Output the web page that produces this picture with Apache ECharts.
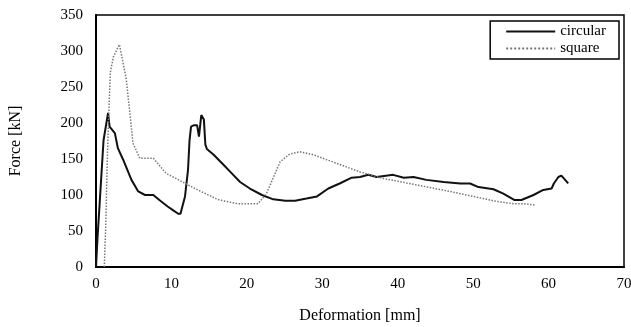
<!DOCTYPE html>
<html>
<head>
<meta charset="utf-8">
<script src="https://cdn.jsdelivr.net/npm/echarts@6/dist/echarts.min.js"></script>
<style>
  html, body { margin: 0; padding: 0; background: #fff; }
  #chart { width: 631px; height: 327px; }
</style>
</head>
<body>
<div id="chart"></div>
<script>
// circular tube: [deformation mm, force kN]
const circular = [
  [0, 0], [0.2, 40], [1.0, 176], [1.6, 214], [1.8, 195], [2.5, 186], [2.9, 165],
  [3.6, 149], [4.7, 121], [5.6, 105], [6.5, 100], [7.6, 100], [8.4, 93],
  [9.5, 84], [10.2, 79], [10.9, 74], [11.2, 74], [11.8, 98], [12.2, 135],
  [12.4, 176], [12.6, 195], [13.0, 197], [13.4, 197], [13.65, 181], [13.96, 211],
  [14.3, 205], [14.5, 170], [14.7, 164], [15.6, 156], [16.9, 142], [18.0, 130],
  [19.1, 118], [20.4, 109], [22.0, 100], [23.5, 94], [25.1, 92], [26.4, 92],
  [27.9, 95], [29.3, 98], [30.8, 109], [32.3, 116], [33.9, 124], [35.0, 125],
  [36.1, 128], [37.2, 125], [39.4, 128], [40.8, 124], [42.1, 125], [43.8, 121],
  [46.1, 118], [48.3, 116], [49.6, 116], [50.7, 111], [52.7, 108], [54.0, 102],
  [55.5, 93], [56.4, 93], [58.0, 100], [59.3, 107], [60.4, 109], [60.7, 116],
  [61.3, 125], [61.5, 123], [61.7, 127], [62.2, 121], [62.6, 116]
];
// square tube: [deformation mm, force kN]
const square = [
  [1.1, 0], [1.3, 60], [1.5, 150], [1.7, 215], [1.9, 270], [2.3, 292], [3.1, 309],
  [4.0, 262], [4.5, 213], [4.9, 172], [5.8, 151], [7.6, 151], [9.3, 130],
  [10.6, 123], [12.2, 114], [13.5, 107], [15.9, 95], [16.4, 93], [18.7, 88],
  [21.5, 88], [22.6, 102], [24.4, 146], [25.7, 157], [27.0, 160], [28.8, 156],
  [30.6, 149], [33.2, 139], [35.0, 132], [38.1, 123], [42.5, 114], [46.9, 105],
  [51.8, 94], [53.1, 91], [55.3, 88], [56.7, 88], [58.2, 86]
];
const xTicks = [0, 10, 20, 30, 40, 50, 60, 70];
const yTicks = [0, 50, 100, 150, 200, 250, 300, 350];

const font = 'Liberation Serif';
const chart = echarts.init(document.getElementById('chart'));
chart.setOption({
  animation: false,
  grid: {
    left: 96, top: 15, right: 7, bottom: 60,
    outerBoundsMode: 'none',
    show: true, borderColor: '#000', borderWidth: 1.5
  },
  legend: {
    orient: 'vertical',
    right: 12, top: 21,
    itemWidth: 49, itemHeight: 10, itemGap: 2,
    padding: [3, 13, 3, 15],
    borderColor: '#000', borderWidth: 1.5,
    itemStyle: { opacity: 0 },
    textStyle: { fontFamily: font, fontSize: 15, color: '#000' },
    data: ['circular', 'square']
  },
  xAxis: {
    type: 'value',
    min: xTicks[0], max: xTicks[xTicks.length - 1], interval: 10,
    name: 'Deformation [mm]', nameLocation: 'middle', nameGap: 41,
    nameTextStyle: { fontFamily: font, fontSize: 16, color: '#000' },
    axisLine: { lineStyle: { color: '#000', width: 2 } },
    axisTick: { show: false },
    splitLine: { show: false },
    axisLabel: { fontFamily: font, fontSize: 15, color: '#000', margin: 10 }
  },
  yAxis: {
    type: 'value',
    min: yTicks[0], max: yTicks[yTicks.length - 1], interval: 50,
    name: 'Force [kN]', nameLocation: 'middle', nameGap: 72,
    nameTextStyle: { fontFamily: font, fontSize: 16, color: '#000' },
    axisLine: { show: true, lineStyle: { color: '#000', width: 2 } },
    axisTick: { show: false },
    splitLine: { show: false },
    axisLabel: { fontFamily: font, fontSize: 15, color: '#000', margin: 13 }
  },
  series: [
    {
      name: 'circular', type: 'line', data: circular,
      symbol: 'none', color: '#111',
      lineStyle: { color: '#111', width: 2 }
    },
    {
      name: 'square', type: 'line', data: square,
      symbol: 'none', color: '#777',
      lineStyle: { color: '#777', width: 1.5, type: 'dotted' }
    }
  ]
});
</script>
</body>
</html>
